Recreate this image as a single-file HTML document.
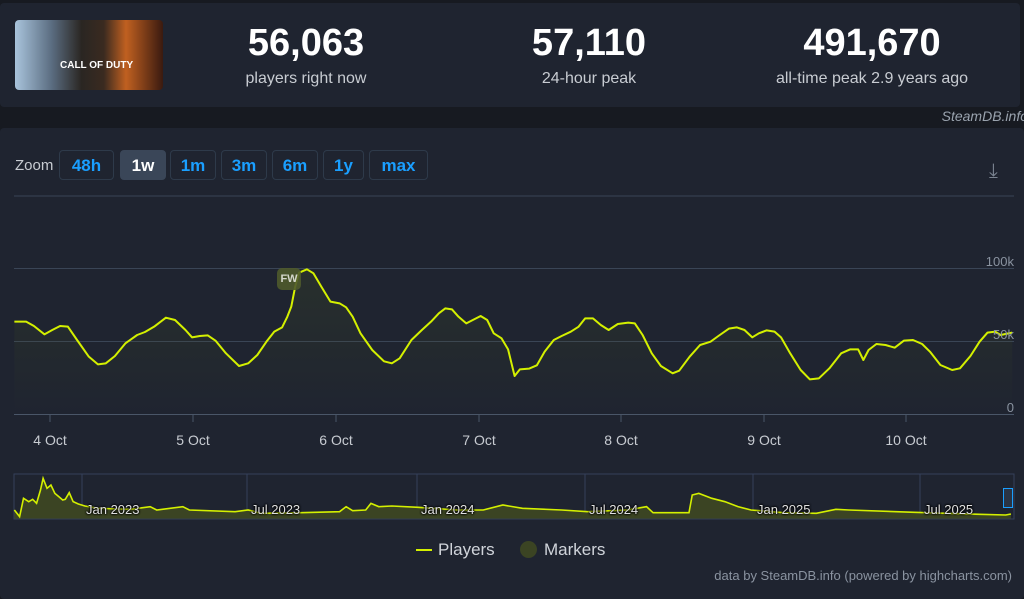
<!DOCTYPE html>
<html><head><meta charset="utf-8"><style>
body{margin:0;width:1024px;height:599px;background:#171a21;font-family:"Liberation Sans",sans-serif;overflow:hidden;position:relative}
.p{position:absolute;background:#1f2430}
.num{position:absolute;color:#fff;font-weight:bold;font-size:38px;transform:translateX(-50%);top:22px;white-space:nowrap}
.lab{position:absolute;color:#c8ccd2;font-size:16px;transform:translateX(-50%);top:70px;white-space:nowrap}
.btn{position:absolute;top:150px;height:30px;border:1px solid #2e3a4a;border-radius:4px;color:#1a9fff;font-size:17px;font-weight:bold;line-height:30px;text-align:center;box-sizing:border-box}
.t{position:absolute;color:#c8ccd2;font-size:14px;transform:translateX(-50%)}
.ax{position:absolute;color:#8a93a0;font-size:13px;right:10px}
.nl{position:absolute;top:502px;color:#e0e0e0;font-size:13px;text-shadow:0 0 2px #000,0 0 2px #000,0 0 2px #000}
</style></head><body>
<div class="p" style="left:0;top:3px;width:1020px;height:104px;border-radius:4px"></div>
<div style="position:absolute;left:15px;top:20px;width:148px;height:70px;border-radius:4px;background:linear-gradient(90deg,#a9c4dc 0%,#5a6c80 25%,#2a2622 45%,#3a2a20 60%,#c06020 75%,#3a1a10 100%)"></div>
<div style="position:absolute;left:60px;top:60px;color:#fff;font-weight:bold;font-size:10px">CALL OF DUTY</div>
<div class="num" style="left:306px">56,063</div><div class="lab" style="left:306px">players right now</div>
<div class="num" style="left:589px">57,110</div><div class="lab" style="left:589px">24-hour peak</div>
<div class="num" style="left:872px">491,670</div><div class="lab" style="left:872px">all-time peak 2.9 years ago</div>
<div style="position:absolute;right:-4px;top:108px;color:#9aa3ae;font-style:italic;font-size:14px">SteamDB.info</div>
<div class="p" style="left:0;top:128px;width:1024px;height:471px;border-radius:4px"></div>
<div style="position:absolute;left:15px;top:157px;color:#c8ccd2;font-size:15px">Zoom</div>
<div class="btn" style="left:59px;width:55px">48h</div>
<div class="btn" style="left:120px;width:46px;background:#3a4658;color:#fff;border-color:#3a4658">1w</div>
<div class="btn" style="left:170px;width:46px">1m</div>
<div class="btn" style="left:221px;width:46px">3m</div>
<div class="btn" style="left:272px;width:46px">6m</div>
<div class="btn" style="left:323px;width:41px">1y</div>
<div class="btn" style="left:369px;width:59px">max</div>
<div style="position:absolute;left:989px;top:160px;color:#7a8390;font-size:20px">⤓</div>
<svg style="position:absolute;left:0;top:0" width="1024" height="599">
<line x1="14" y1="196" x2="1014" y2="196" stroke="#3a4556"/>
<line x1="14" y1="268.5" x2="1014" y2="268.5" stroke="#3a4556"/>
<line x1="14" y1="341.5" x2="1014" y2="341.5" stroke="#3a4556"/>
<line x1="14" y1="414.5" x2="1014" y2="414.5" stroke="#4a5668"/>
<g stroke="#4a5668"><line x1="50" y1="414" x2="50" y2="422"/><line x1="193" y1="414" x2="193" y2="422"/><line x1="336" y1="414" x2="336" y2="422"/><line x1="479" y1="414" x2="479" y2="422"/><line x1="621" y1="414" x2="621" y2="422"/><line x1="764" y1="414" x2="764" y2="422"/><line x1="906" y1="414" x2="906" y2="422"/></g>
<rect x="14" y="474" width="1000" height="45" fill="none" stroke="#34405a"/>
<g stroke="#34405a"><line x1="82" y1="474" x2="82" y2="519"/><line x1="247" y1="474" x2="247" y2="519"/><line x1="417" y1="474" x2="417" y2="519"/><line x1="585" y1="474" x2="585" y2="519"/><line x1="753" y1="474" x2="753" y2="519"/><line x1="920" y1="474" x2="920" y2="519"/></g>
</svg>
<svg style="position:absolute;left:0;top:250px" width="1024" height="200" viewBox="0 0 1568 600" preserveAspectRatio="none">
<defs><linearGradient id="g" x1="0" y1="0" x2="0" y2="1"><stop offset="0" stop-color="#4a5a20" stop-opacity=".22"/><stop offset="1" stop-color="#4a5a20" stop-opacity="0"/></linearGradient></defs>
<polygon fill="url(#g)" points="22,493 22,215 40,215 52,228 68,253 80,240 92,228 104,230 118,270 136,320 150,343 162,340 176,318 192,280 210,255 222,246 236,230 254,203 268,210 284,240 294,262 306,258 318,256 330,272 346,310 366,348 380,340 394,315 408,275 420,245 432,232 440,200 446,170 452,110 458,68 470,58 480,70 492,110 506,155 520,160 530,172 540,200 552,250 570,300 588,334 600,340 612,325 630,270 646,240 660,215 672,190 682,175 692,178 702,200 714,220 724,210 736,198 746,210 756,250 768,265 778,298 788,378 796,358 810,356 822,346 834,305 848,270 860,258 874,245 886,230 896,205 908,205 920,225 932,240 946,222 962,218 972,220 984,255 998,310 1012,348 1030,370 1040,362 1056,320 1072,285 1088,275 1100,258 1116,236 1128,232 1140,240 1152,262 1162,250 1174,241 1186,245 1196,262 1210,310 1226,360 1240,388 1254,385 1270,355 1288,310 1302,298 1314,298 1322,330 1330,300 1342,282 1356,285 1370,293 1384,272 1398,270 1412,282 1424,305 1440,345 1458,360 1470,355 1486,318 1500,275 1512,248 1524,245 1532,255 1550,248 1550,493"/>
<polyline fill="none" stroke="#d4f000" stroke-width="2" vector-effect="non-scaling-stroke" stroke-linejoin="round" points="22,215 40,215 52,228 68,253 80,240 92,228 104,230 118,270 136,320 150,343 162,340 176,318 192,280 210,255 222,246 236,230 254,203 268,210 284,240 294,262 306,258 318,256 330,272 346,310 366,348 380,340 394,315 408,275 420,245 432,232 440,200 446,170 452,110 458,68 470,58 480,70 492,110 506,155 520,160 530,172 540,200 552,250 570,300 588,334 600,340 612,325 630,270 646,240 660,215 672,190 682,175 692,178 702,200 714,220 724,210 736,198 746,210 756,250 768,265 778,298 788,378 796,358 810,356 822,346 834,305 848,270 860,258 874,245 886,230 896,205 908,205 920,225 932,240 946,222 962,218 972,220 984,255 998,310 1012,348 1030,370 1040,362 1056,320 1072,285 1088,275 1100,258 1116,236 1128,232 1140,240 1152,262 1162,250 1174,241 1186,245 1196,262 1210,310 1226,360 1240,388 1254,385 1270,355 1288,310 1302,298 1314,298 1322,330 1330,300 1342,282 1356,285 1370,293 1384,272 1398,270 1412,282 1424,305 1440,345 1458,360 1470,355 1486,318 1500,275 1512,248 1524,245 1532,255 1550,248"/>
</svg>
<div style="position:absolute;left:277px;top:268px;width:24px;height:22px;border-radius:5px;background:#4e5a2c;opacity:.9;color:#e8eadc;font-size:11px;font-weight:bold;text-align:center;line-height:22px">FW</div>
<div class="ax" style="top:254px">100k</div><div class="ax" style="top:327px">50k</div><div class="ax" style="top:400px">0</div>
<div class="t" style="left:50px;top:432px">4 Oct</div><div class="t" style="left:193px;top:432px">5 Oct</div><div class="t" style="left:336px;top:432px">6 Oct</div><div class="t" style="left:479px;top:432px">7 Oct</div><div class="t" style="left:621px;top:432px">8 Oct</div><div class="t" style="left:764px;top:432px">9 Oct</div><div class="t" style="left:906px;top:432px">10 Oct</div>
<svg style="position:absolute;left:0;top:460px" width="1024" height="139" viewBox="0 0 1568 417" preserveAspectRatio="none">
<polygon fill="#3b4423" points="22,176 22,150 30,170 36,115 44,125 50,118 56,130 62,90 66,55 72,85 78,75 84,100 90,110 96,120 100,118 106,98 112,125 120,132 130,138 150,145 200,148 230,140 240,150 280,140 290,150 360,155 380,150 400,160 460,158 520,155 530,140 540,152 560,150 568,130 580,140 600,138 640,142 700,150 740,150 770,135 800,145 860,150 900,155 960,150 990,140 1000,158 1055,158 1060,105 1070,100 1090,115 1110,125 1130,140 1150,150 1200,158 1250,160 1280,148 1300,150 1400,157 1450,160 1500,163 1540,165 1548,162 1548,176"/>
<polyline fill="none" stroke="#d4f000" stroke-width="1.6" vector-effect="non-scaling-stroke" points="22,150 30,170 36,115 44,125 50,118 56,130 62,90 66,55 72,85 78,75 84,100 90,110 96,120 100,118 106,98 112,125 120,132 130,138 150,145 200,148 230,140 240,150 280,140 290,150 360,155 380,150 400,160 460,158 520,155 530,140 540,152 560,150 568,130 580,140 600,138 640,142 700,150 740,150 770,135 800,145 860,150 900,155 960,150 990,140 1000,158 1055,158 1060,105 1070,100 1090,115 1110,125 1130,140 1150,150 1200,158 1250,160 1280,148 1300,150 1400,157 1450,160 1500,163 1540,165 1548,162"/>
</svg>
<div style="position:absolute;left:1003px;top:488px;width:8px;height:18px;border:1px solid #1a9fff;background:#2a3444"></div>
<div class="nl" style="left:86px">Jan 2023</div>
<div class="nl" style="left:251px">Jul 2023</div>
<div class="nl" style="left:421px">Jan 2024</div>
<div class="nl" style="left:589px">Jul 2024</div>
<div class="nl" style="left:757px">Jan 2025</div>
<div class="nl" style="left:924px">Jul 2025</div>
<div style="position:absolute;left:416px;top:549px;width:16px;height:2px;background:#d4f000"></div>
<div style="position:absolute;left:438px;top:540px;color:#d0d4da;font-size:17px">Players</div>
<div style="position:absolute;left:520px;top:541px;width:17px;height:17px;border-radius:50%;background:#3b4423"></div>
<div style="position:absolute;left:544px;top:540px;color:#d0d4da;font-size:17px">Markers</div>
<div style="position:absolute;right:12px;top:568px;color:#8a93a0;font-size:13px">data by SteamDB.info (powered by highcharts.com)</div>
</body></html>
